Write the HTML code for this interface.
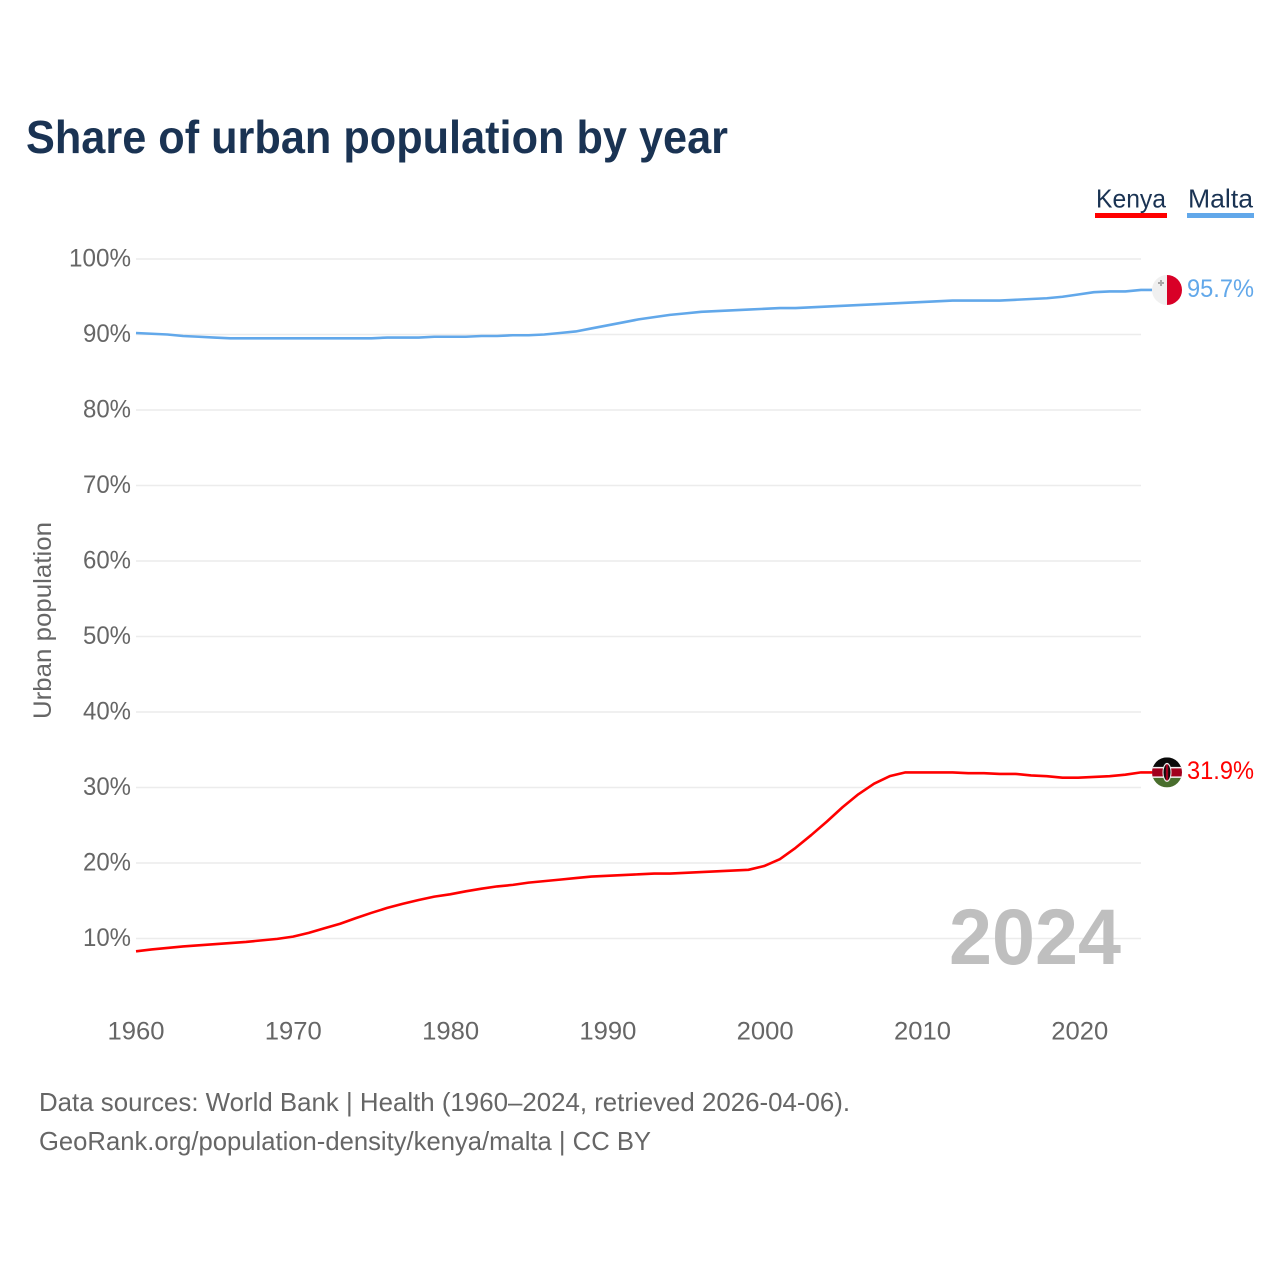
<!DOCTYPE html>
<html lang="en">
<head>
<meta charset="utf-8">
<title>Share of urban population by year</title>
<style>
html,body{margin:0;padding:0;background:#fff;width:1280px;height:1280px;overflow:hidden}
svg{display:block}
text{font-family:"Liberation Sans",Arial,sans-serif}
</style>
</head>
<body>
<svg id="chart" xmlns="http://www.w3.org/2000/svg" width="1280" height="1280" viewBox="0 0 1280 1280">
  <rect width="1280" height="1280" fill="#fff"/>
  <text x="26" y="153" font-size="46" font-weight="700" fill="#1a3353" textLength="702" lengthAdjust="spacingAndGlyphs">Share of urban population by year</text>

  <g>
    <g>
      <text x="1096" y="207.500" font-size="26" fill="#1a3353" textLength="70" lengthAdjust="spacingAndGlyphs">Kenya</text>
      <rect x="1095" y="213" width="72" height="5" fill="#ff0000"/>
    </g>
    <g>
      <text x="1188" y="207.500" font-size="26" fill="#1a3353" textLength="65" lengthAdjust="spacingAndGlyphs">Malta</text>
      <rect x="1187" y="213" width="67" height="5" fill="#62a8ea"/>
    </g>
  </g>

  <text transform="translate(51,620.500) rotate(-90)" text-anchor="middle" font-size="25" fill="#666" textLength="197" lengthAdjust="spacingAndGlyphs">Urban population</text>

  <g id="grid"></g>
  <g id="yticks"></g>
  <g id="xticks"></g>

  <text x="949" y="964" font-size="79" font-weight="700" fill="#bfbfbf" textLength="172" lengthAdjust="spacingAndGlyphs">2024</text>

  <g id="series"></g>

  <defs>
    <clipPath id="flag-clip"><circle cx="0" cy="0" r="15"/></clipPath>
  </defs>
  <g id="flag-malta">
    <g clip-path="url(#flag-clip)">
      <rect x="-15" y="-15" width="15" height="30" fill="#f0f0f0"/>
      <rect x="0" y="-15" width="15" height="30" fill="#d80027"/>
      <path d="M-7-10h2v2h2v2h-2v2h-2v-2h-2v-2h2z" fill="#a8a8a8"/>
    </g>
  </g>
  <g id="flag-kenya">
    <g clip-path="url(#flag-clip)">
      <rect x="-15" y="-15" width="30" height="10" fill="#0a0a0a"/>
      <rect x="-15" y="-5" width="30" height="10" fill="#a2001d"/>
      <rect x="-15" y="5" width="30" height="10" fill="#496e2d"/>
      <rect x="-15" y="-5.500" width="30" height="1.500" fill="#f0f0f0"/>
      <rect x="-15" y="4" width="30" height="1.500" fill="#f0f0f0"/>
      <ellipse cx="0" cy="0" rx="4.500" ry="9.500" fill="#f0f0f0"/>
      <ellipse cx="0" cy="0" rx="3.500" ry="8" fill="#0a0a0a"/>
      <rect x="-1.200" y="-8" width="2.400" height="16" fill="#a2001d"/>
    </g>
  </g>
  <text id="value-malta" x="1187" y="297" font-size="25" fill="#62a8ea" textLength="67" lengthAdjust="spacingAndGlyphs"></text>
  <text id="value-kenya" x="1187" y="779" font-size="25" fill="#ff0000" textLength="67" lengthAdjust="spacingAndGlyphs"></text>

  <g>
    <text x="39" y="1111" font-size="26" fill="#666" textLength="811" lengthAdjust="spacingAndGlyphs">Data sources: World Bank | Health (1960–2024, retrieved 2026-04-06).</text>
    <text x="39" y="1150" font-size="26" fill="#666" textLength="612" lengthAdjust="spacingAndGlyphs">GeoRank.org/population-density/kenya/malta | CC BY</text>
  </g>
</svg>

<script>
const years = [1960,1961,1962,1963,1964,1965,1966,1967,1968,1969,1970,1971,1972,1973,1974,1975,1976,1977,1978,1979,1980,1981,1982,1983,1984,1985,1986,1987,1988,1989,1990,1991,1992,1993,1994,1995,1996,1997,1998,1999,2000,2001,2002,2003,2004,2005,2006,2007,2008,2009,2010,2011,2012,2013,2014,2015,2016,2017,2018,2019,2020,2021,2022,2023,2024];
const kenyaValues = [8.3,8.55,8.75,8.95,9.1,9.25,9.4,9.55,9.75,9.95,10.25,10.75,11.35,11.95,12.7,13.4,14.05,14.6,15.1,15.55,15.85,16.25,16.6,16.9,17.1,17.4,17.6,17.8,18.0,18.2,18.3,18.4,18.5,18.6,18.6,18.7,18.8,18.9,19.0,19.1,19.6,20.5,22.0,23.7,25.5,27.4,29.1,30.5,31.5,32.0,32.0,32.0,32.0,31.9,31.9,31.8,31.8,31.6,31.5,31.3,31.3,31.4,31.5,31.7,32.0];
const maltaValues = [90.2,90.1,90.0,89.8,89.7,89.6,89.5,89.5,89.5,89.5,89.5,89.5,89.5,89.5,89.5,89.5,89.6,89.6,89.6,89.7,89.7,89.7,89.8,89.8,89.9,89.9,90.0,90.2,90.4,90.8,91.2,91.6,92.0,92.3,92.6,92.8,93.0,93.1,93.2,93.3,93.4,93.5,93.5,93.6,93.7,93.8,93.9,94.0,94.1,94.2,94.3,94.4,94.5,94.5,94.5,94.5,94.6,94.7,94.8,95.0,95.3,95.6,95.7,95.7,95.9];
const yTicks = [100,90,80,70,60,50,40,30,20,10];
const xTicks = [1960,1970,1980,1990,2000,2010,2020];
const kenyaLabel = "31.9%";
const maltaLabel = "95.7%";

const NS = "http://www.w3.org/2000/svg";
const xScale = function (year) { return 136 + (year - 1960) * (1141 - 136) / 64; };
const yScale = function (value) { return 259 + (100 - value) * (938.5 - 259) / 90; };
const xLabelPos = function (year) { return 136 + (year - 1960) * 15.73; };

function make(tag, attrs, parent) {
  const el = document.createElementNS(NS, tag);
  for (const k in attrs) el.setAttribute(k, attrs[k]);
  parent.appendChild(el);
  return el;
}

const grid = document.getElementById("grid");
const yGroup = document.getElementById("yticks");
yTicks.forEach(function (t) {
  const line = make("line", {x1: 136, x2: 1141, y1: yScale(t), y2: yScale(t), stroke: "#ececec", "stroke-width": 1.5}, grid);
  
  
  const label = make("text", {x: 131, y: yScale(t) + 7.5, "text-anchor": "end", "font-size": 25, fill: "#666", textLength: t === 100 ? 62 : 48, lengthAdjust: "spacingAndGlyphs"}, yGroup);
  
  
  label.textContent = t + "%";
});

const xGroup = document.getElementById("xticks");
xTicks.forEach(function (t) {
  const label = make("text", {x: xLabelPos(t), y: 1039.5, "text-anchor": "middle", "font-size": 25, fill: "#666", textLength: 57, lengthAdjust: "spacingAndGlyphs"}, xGroup);
  
  
  label.textContent = t;
});

function linePath(values) {
  return values.map(function (v, i) {
    return (i ? "L" : "M") + xScale(years[i]).toFixed(2) + " " + yScale(v).toFixed(2);
  }).join("");
}

const seriesGroup = document.getElementById("series");
const last = years.length - 1;

const maltaLine = make("path", {d: linePath(maltaValues) + "H1152", fill: "none", stroke: "#62a8ea", "stroke-width": 2.6, "stroke-linejoin": "round"}, seriesGroup);



const kenyaLine = make("path", {d: linePath(kenyaValues) + "H1152", fill: "none", stroke: "#ff0000", "stroke-width": 2.6, "stroke-linejoin": "round"}, seriesGroup);



document.getElementById("flag-malta").setAttribute("transform", "translate(1167," + yScale(maltaValues[last]) + ")");
document.getElementById("flag-kenya").setAttribute("transform", "translate(1167," + yScale(kenyaValues[last]) + ")");
document.getElementById("value-malta").setAttribute("y", yScale(maltaValues[last]) + 7);
document.getElementById("value-kenya").setAttribute("y", yScale(kenyaValues[last]) + 6.5);
document.getElementById("value-malta").textContent = maltaLabel;
document.getElementById("value-kenya").textContent = kenyaLabel;
</script>
</body>
</html>
